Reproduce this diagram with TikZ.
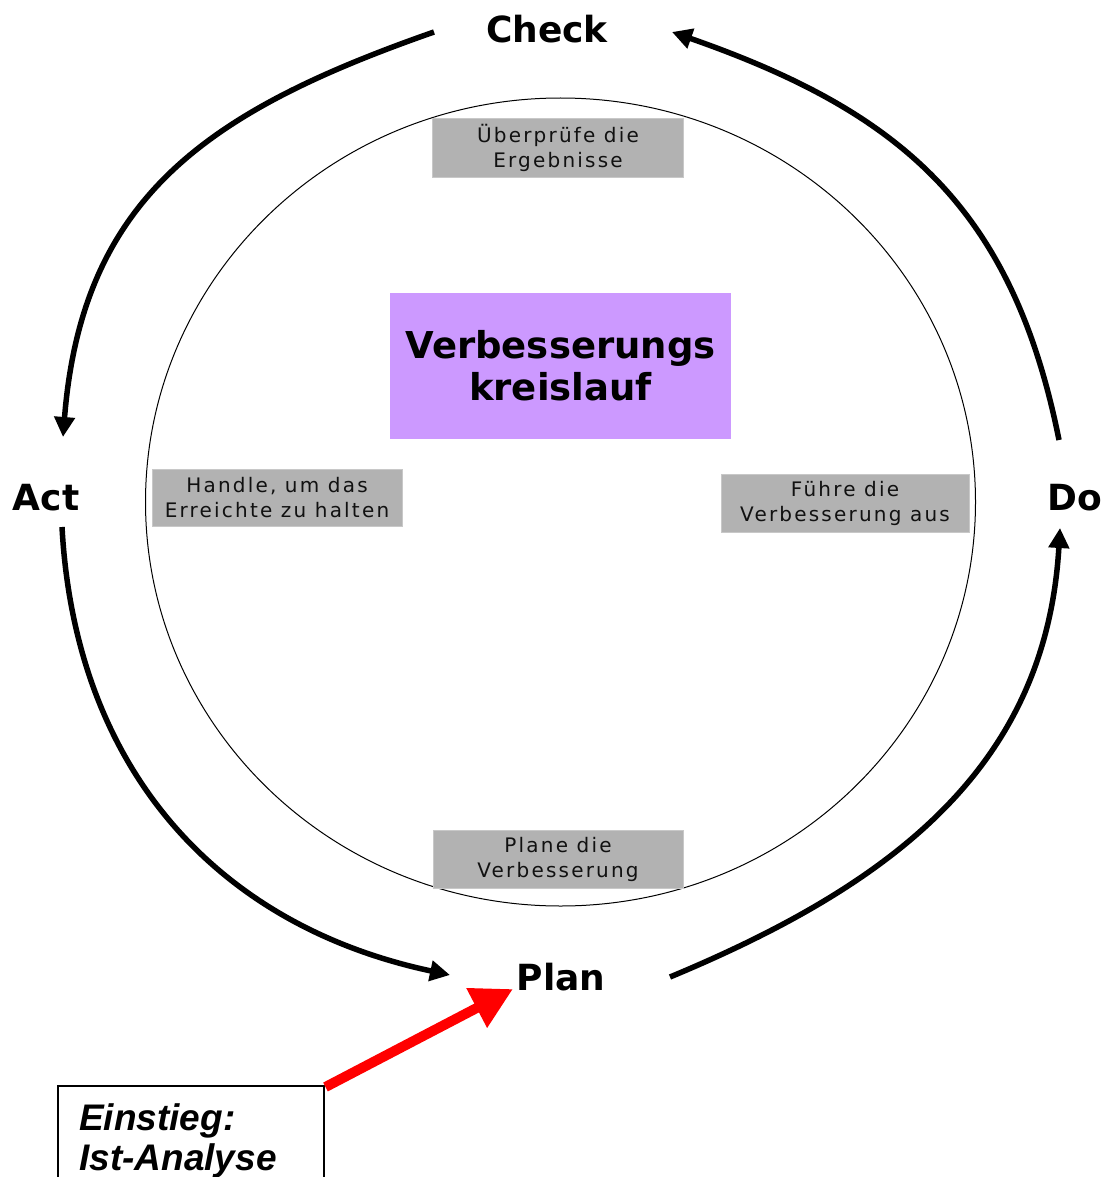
\documentclass[tikz,border=0pt]{standalone}
\usepackage{fontspec}
\usetikzlibrary{arrows.meta}
\newfontfamily\dvs{DejaVu Sans}
\newfontfamily\boxfont{DejaVu Sans}[LetterSpace=11]
\newfontfamily\arialf{Liberation Sans}
\definecolor{boxgray}{RGB}{178,178,178}
\definecolor{boxedge}{RGB}{200,200,200}
\definecolor{lila}{RGB}{204,153,255}
\definecolor{boxtext}{RGB}{17,17,17}
\tikzset{
  graybox/.style={rectangle, fill=boxgray, draw=boxedge, line width=1pt, inner sep=0pt,
    align=center, text=boxtext, font=\boxfont\fontsize{20}{25}\selectfont},
  phase/.style={inner sep=0pt, anchor=base, font=\dvs\bfseries\fontsize{36}{43}\selectfont},
  cyc/.style={line width=5.5pt, -{Triangle[length=20pt,width=20pt]}},
  entryarrow/.style={draw=red, line width=10pt, -{Triangle[length=41pt,width=42pt,fill=red]}},
  entrytext/.style={inner sep=0pt, anchor=base west, font=\arialf\bfseries\itshape\fontsize{37}{40}\selectfont}
}
\begin{document}
\begin{tikzpicture}[x=1pt,y=-1pt]
\clip (0,0) rectangle (1112,1177);
\fill[white] (0,0) rectangle (1112,1177);

% inner circle
\draw[line width=1pt] (560.5,502) ellipse [x radius=415, y radius=404];

% grey boxes
\node[graybox, minimum width=251pt, minimum height=59pt] (check box) at (558,148) {\"Uberpr\"ufe die\\Ergebnisse};
\node[graybox, minimum width=250pt, minimum height=57pt] (act box) at (277,497.5) {Handle, um das\\Erreichte zu halten};
\node[graybox, minimum width=248pt, minimum height=58pt] (do box) at (845,503) {F\"uhre die\\Verbesserung aus};
\node[graybox, minimum width=250pt, minimum height=58pt] (plan box) at (558,859) {Plane die\\Verbesserung};

% central box
\node[rectangle, fill=lila, inner sep=0pt, minimum width=341pt, minimum height=146pt, align=center,
  font=\dvs\bfseries\fontsize{37}{42}\selectfont] (centre) at (560.5,366) {Verbesserungs\\kreislauf};

% phase labels
\node[phase] (check) at (547,43) {Check};
\node[phase] (act) at (46,510) {Act};
\node[phase] (do) at (1075,510) {Do};
\node[phase] (plan) at (561,990) {Plan};

% arc end points
\coordinate (c-out) at (434,32);
\coordinate (a-in) at (63,437);
\coordinate (a-out) at (62,527);
\coordinate (p-in) at (450,975);
\coordinate (p-out) at (670,977);
\coordinate (d-in) at (1060,528);
\coordinate (d-out) at (1059,440);
\coordinate (c-in) at (672,32);

% cycle arrows
\draw[cyc] (c-out) .. controls (208,111) and (82,197) .. (a-in);
\draw[cyc] (a-out) .. controls (75,767) and (215,925) .. (p-in);
\draw[cyc] (p-out) .. controls (891,885) and (1046,768) .. (d-in);
\draw[cyc] (d-out) .. controls (1012,205) and (898,111) .. (c-in);

% entry box
\node[draw, line width=1.5pt, rectangle, inner sep=0pt, anchor=north west,
  minimum width=266pt, minimum height=130pt] (entry) at (57,1085) {};
\node[entrytext] (entry1) at (79,1130) {Einstieg:};
\node[entrytext] (entry2) at (79,1170) {Ist-Analyse};
\coordinate (entry tip) at (513,989);
\draw[entryarrow] ([shift={(1pt,-2pt)}]entry.north east) -- (entry tip);
\end{tikzpicture}
\end{document}
